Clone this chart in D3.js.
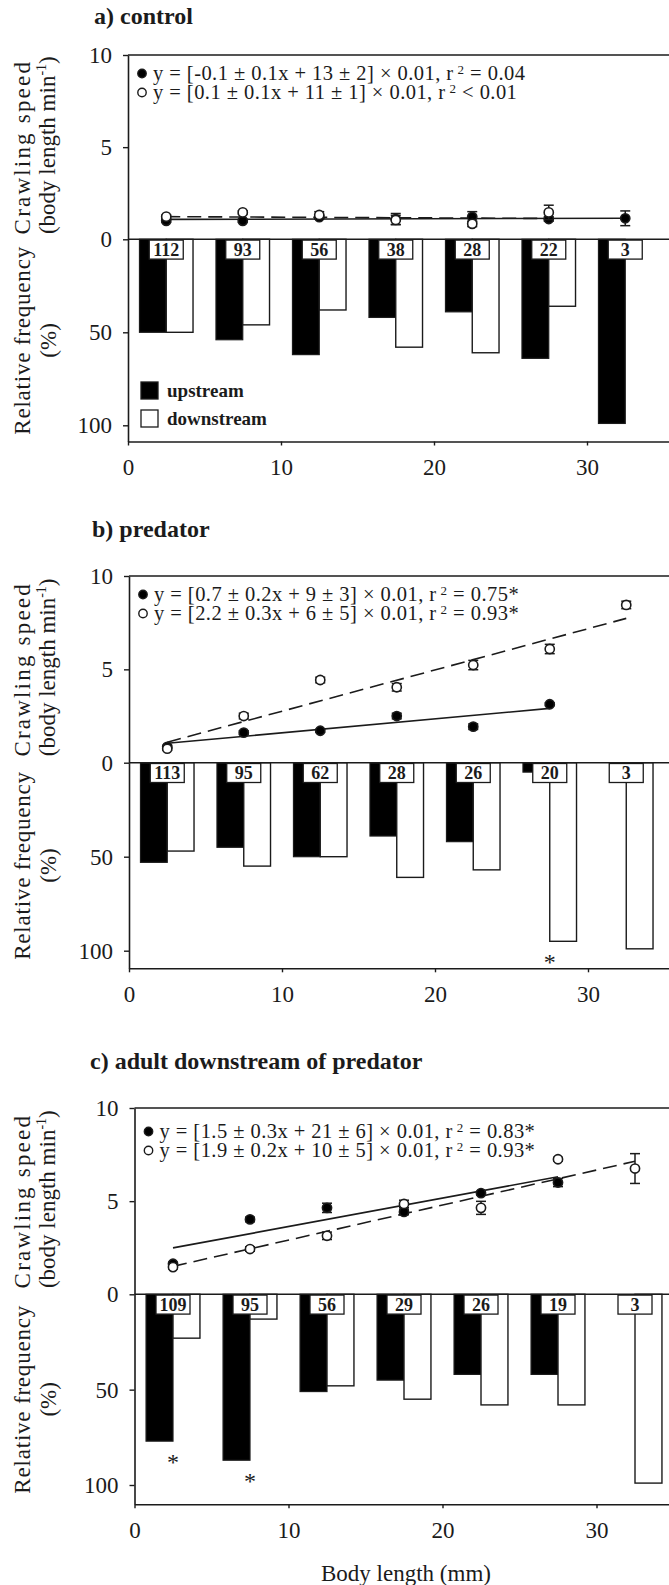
<!DOCTYPE html>
<html>
<head>
<meta charset="utf-8">
<script src="https://cdn.jsdelivr.net/npm/d3@7"></script>
<style>
  body { margin: 0; background: #fff; }
  svg { display: block; font-family: "Liberation Serif", "Times New Roman", serif; }
</style>
</head>
<body>
<svg id="chart" width="669" height="1585"></svg>
<script>
// body length classes (mm), bar-pair centres
const sizes = [2.5, 7.5, 12.5, 17.5, 22.5, 27.5, 32.5];
const xTicks = [0, 10, 20, 30];
const speedTicks = [0, 5, 10];
const freqTicks = [0, 50, 100];

// a) control
const countsA = [112, 93, 56, 38, 28, 22, 3];
const upFreqA = [50, 54, 62, 42, 39, 64, 99];
const downFreqA = [50, 46, 38, 58, 61, 36, 0];
const upSpeedA = [1.0, 1.0, 1.2, 1.1, 1.22, 1.1, 1.14];
const upErrA = [0.08, 0.08, 0.1, 0.3, 0.28, 0.12, 0.4];
const downSpeedA = [1.23, 1.46, 1.32, 1.05, 0.84, 1.46, null];
const downErrA = [0.08, 0.08, 0.18, 0.25, 0.15, 0.39, null];
const fitUpA = [[2.5, 1.08], [32.5, 1.14]];
const fitDownA = [[2.5, 1.23], [27.5, 1.13]];
const eqA = [["y = [-0.1 ± 0.1x + 13 ± 2] × 0.01, r", " = 0.04"],
             ["y = [0.1 ± 0.1x + 11 ± 1] × 0.01, r", " < 0.01"]];
const starsA = [];

// b) predator
const countsB = [113, 95, 62, 28, 26, 20, 3];
const upFreqB = [53, 45, 50, 39, 42, 5, 0];
const downFreqB = [47, 55, 50, 61, 57, 95, 99];
const upSpeedB = [0.85, 1.61, 1.71, 2.5, 1.93, 3.13, null];
const upErrB = [0.08, 0.1, 0.08, 0.15, 0.15, 0.08, null];
const downSpeedB = [0.75, 2.5, 4.43, 4.04, 5.23, 6.09, 8.45];
const downErrB = [0.08, 0.15, 0.15, 0.2, 0.25, 0.25, 0.2];
const fitUpB = [[2.5, 1.04], [27.5, 2.91]];
const fitDownB = [[2.5, 1.1], [32.5, 7.73]];
const eqB = [["y = [0.7 ± 0.2x + 9 ± 3] × 0.01, r", " = 0.75*"],
             ["y = [2.2 ± 0.3x + 6 ± 5] × 0.01, r", " = 0.93*"]];
const starsB = [5];

// c) adult downstream of predator
const countsC = [109, 95, 56, 29, 26, 19, 3];
const upFreqC = [77, 87, 51, 45, 42, 42, 0];
const downFreqC = [23, 13, 48, 55, 58, 58, 99];
const upSpeedC = [1.64, 4.02, 4.64, 4.42, 5.43, 6.0, null];
const upErrC = [0.08, 0.12, 0.25, 0.15, 0.1, 0.22, null];
const downSpeedC = [1.46, 2.43, 3.14, 4.85, 4.64, 7.25, 6.75];
const downErrC = [0.1, 0.12, 0.2, 0.2, 0.35, 0.1, 0.8];
const fitUpC = [[2.5, 2.49], [27.5, 6.31]];
const fitDownC = [[2.5, 1.5], [32.5, 7.14]];
const eqC = [["y = [1.5 ± 0.3x + 21 ± 6] × 0.01, r", " = 0.83*"],
             ["y = [1.9 ± 0.2x + 10 ± 5] × 0.01, r", " = 0.93*"]];
const starsC = [0, 1];

const panels = [
  { title: "a) control", titleX: 94, titleY: 24, x0: 128, mm: 15.3, top: 55, zero: 239.3, f100: 425.3, bottom: 441.5, eqY: 25,
    counts: countsA, upF: upFreqA, downF: downFreqA, upS: upSpeedA, upE: upErrA, downS: downSpeedA, downE: downErrA,
    fitUp: fitUpA, fitDown: fitDownA, eq: eqA, stars: starsA, legend: true },
  { title: "b) predator", titleX: 92, titleY: 537, x0: 129, mm: 15.3, top: 576, zero: 762.7, f100: 950.7, bottom: 968.3, eqY: 25,
    counts: countsB, upF: upFreqB, downF: downFreqB, upS: upSpeedB, upE: upErrB, downS: downSpeedB, downE: downErrB,
    fitUp: fitUpB, fitDown: fitDownB, eq: eqB, stars: starsB },
  { title: "c) adult downstream of predator", titleX: 90, titleY: 1069, x0: 134.5, mm: 15.4, top: 1108, zero: 1294.3, f100: 1485, bottom: 1504.3, eqY: 30,
    counts: countsC, upF: upFreqC, downF: downFreqC, upS: upSpeedC, upE: upErrC, downS: downSpeedC, downE: downErrC,
    fitUp: fitUpC, fitDown: fitDownC, eq: eqC, stars: starsC, xLabel: "Body length (mm)" }
];

const svg = d3.select("#chart");
const ink = "#1b1b1b";
const barHalf = 1.75; // mm

function styleAxis(sel) {
  sel.attr("font-family", null).attr("font-size", 23);
  sel.select(".domain").attr("stroke", ink).attr("stroke-width", 1.6);
  sel.selectAll(".tick line").attr("stroke", ink).attr("stroke-width", 1.4);
  sel.selectAll(".tick text").attr("fill", ink);
}

panels.forEach(function (p) {
  const x = d3.scaleLinear().domain([0, 36]).range([p.x0, p.x0 + 36 * p.mm]);
  const speed = d3.scaleLinear().domain([0, 10]).range([p.zero, p.top]);
  const freq = d3.scaleLinear().domain([0, 100]).range([p.zero, p.f100]);
  const freqAxis = d3.scaleLinear().domain([0, freq.invert(p.bottom)]).range([p.zero, p.bottom]);
  const g = svg.append("g");

  g.append("text")
    .attr("x", p.titleX).attr("y", p.titleY)
    .attr("font-weight", "bold").attr("font-size", 24).attr("fill", ink)
    .text(p.title);

  // bars
  sizes.forEach(function (s, i) {
    if (p.upF[i] > 0) {
      g.append("rect")
        .attr("x", x(s - barHalf)).attr("y", p.zero)
        .attr("width", x(s) - x(s - barHalf)).attr("height", freq(p.upF[i]) - p.zero)
        .attr("fill", "#000").attr("stroke", ink).attr("stroke-width", 1.2);
    }
    if (p.downF[i] > 0) {
      g.append("rect")
        .attr("x", x(s)).attr("y", p.zero)
        .attr("width", x(s + barHalf) - x(s)).attr("height", freq(p.downF[i]) - p.zero)
        .attr("fill", "#fff").attr("stroke", ink).attr("stroke-width", 1.4);
    }
  });

  // sample size boxes
  sizes.forEach(function (s, i) {
    g.append("rect")
      .attr("x", x(s) - 17).attr("y", p.zero + 0.8)
      .attr("width", 34).attr("height", 19)
      .attr("fill", "#fff").attr("stroke", ink).attr("stroke-width", 1.3);
    g.append("text")
      .attr("x", x(s)).attr("y", p.zero + 16.5)
      .attr("text-anchor", "middle").attr("font-weight", "bold").attr("font-size", 18).attr("fill", ink)
      .text(p.counts[i]);
  });

  // significance stars
  p.stars.forEach(function (i) {
    const depth = Math.max(p.upF[i], p.downF[i]);
    g.append("text")
      .attr("x", x(sizes[i])).attr("y", freq(depth) + 29)
      .attr("text-anchor", "middle").attr("font-size", 24).attr("fill", ink)
      .text("*");
  });

  // frame lines
  [10, 0].forEach(function (v) {
    g.append("line")
      .attr("x1", x(0)).attr("x2", x(36))
      .attr("y1", speed(v)).attr("y2", speed(v))
      .attr("stroke", ink).attr("stroke-width", 1.6);
  });

  g.append("g").attr("transform", "translate(" + x(0) + ",0)")
    .call(d3.axisLeft(speed).tickValues(speedTicks).tickSize(5).tickSizeOuter(0).tickPadding(11))
    .call(styleAxis);
  g.append("g").attr("transform", "translate(" + x(0) + ",0)")
    .call(d3.axisLeft(freqAxis).tickValues(freqTicks.filter(v => v > 0)).tickSize(5).tickSizeOuter(0).tickPadding(11))
    .call(styleAxis);
  g.append("g").attr("transform", "translate(0," + p.bottom + ")")
    .call(d3.axisBottom(x).tickValues(xTicks).tickSize(4).tickSizeOuter(0).tickPadding(13))
    .call(styleAxis);

  // regression lines
  const line = d3.line().x(d => x(d[0])).y(d => speed(d[1]));
  g.append("path").datum(p.fitUp).attr("d", line)
    .attr("fill", "none").attr("stroke", ink).attr("stroke-width", 1.6);
  g.append("path").datum(p.fitDown).attr("d", line)
    .attr("fill", "none").attr("stroke", ink).attr("stroke-width", 1.6).attr("stroke-dasharray", "14,7");

  // error bars + points: upstream first, downstream on top
  [[p.upS, p.upE, "#000"], [p.downS, p.downE, "#fff"]].forEach(function (ser) {
    sizes.forEach(function (s, i) {
      const v = ser[0][i];
      if (v == null) return;
      const e = ser[1][i];
      const cx = x(s);
      g.append("line").attr("x1", cx).attr("x2", cx)
        .attr("y1", speed(v - e)).attr("y2", speed(v + e))
        .attr("stroke", ink).attr("stroke-width", 1.5);
      [v - e, v + e].forEach(function (yv) {
        g.append("line").attr("x1", cx - 5).attr("x2", cx + 5)
          .attr("y1", speed(yv)).attr("y2", speed(yv))
          .attr("stroke", ink).attr("stroke-width", 1.5);
      });
      g.append("circle").attr("cx", cx).attr("cy", speed(v)).attr("r", 4.6)
        .attr("fill", ser[2]).attr("stroke", ink).attr("stroke-width", 1.6);
    });
  });

  // equations
  p.eq.forEach(function (parts, k) {
    const by = p.top + p.eqY + k * 19;
    g.append("circle").attr("cx", p.x0 + 14).attr("cy", by - 6.5).attr("r", 4.2)
      .attr("fill", k === 0 ? "#000" : "#fff").attr("stroke", ink).attr("stroke-width", 1.4);
    const t = g.append("text").attr("x", p.x0 + 25).attr("y", by)
      .attr("font-size", 20.5).attr("letter-spacing", 0.45).attr("fill", ink);
    t.append("tspan").text(parts[0]);
    t.append("tspan").attr("dx", 4).attr("dy", -6).attr("font-size", 13).text("2");
    t.append("tspan").attr("dy", 6).text(parts[1]);
  });

  // legend
  if (p.legend) {
    [["upstream", "#000", 382], ["downstream", "#fff", 410]].forEach(function (l) {
      g.append("rect").attr("x", p.x0 + 13).attr("y", l[2]).attr("width", 17).attr("height", 17)
        .attr("fill", l[1]).attr("stroke", ink).attr("stroke-width", 1.3);
      g.append("text").attr("x", p.x0 + 39).attr("y", l[2] + 15)
        .attr("font-weight", "bold").attr("font-size", 19).attr("fill", ink).text(l[0]);
    });
  }

  // y axis titles
  const sMid = (p.top + p.zero) / 2;
  const fMid = (p.zero + p.bottom) / 2;
  g.append("text").attr("transform", "translate(30," + sMid + ") rotate(-90)")
    .attr("text-anchor", "middle").attr("font-size", 23).attr("letter-spacing", 2.2)
    .attr("fill", ink).text("Crawling speed");
  const t2 = g.append("text").attr("transform", "translate(55," + (sMid - 2) + ") rotate(-90)")
    .attr("text-anchor", "middle").attr("font-size", 23).attr("fill", ink);
  t2.append("tspan").text("(body length min");
  t2.append("tspan").attr("dy", -9).attr("font-size", 14).text("-1");
  t2.append("tspan").attr("dy", 9).text(")");
  g.append("text").attr("transform", "translate(30," + fMid + ") rotate(-90)")
    .attr("text-anchor", "middle").attr("font-size", 23).attr("letter-spacing", 0.8)
    .attr("fill", ink).text("Relative frequency");
  g.append("text").attr("transform", "translate(56," + fMid + ") rotate(-90)")
    .attr("text-anchor", "middle").attr("font-size", 23).attr("fill", ink).text("(%)");

  if (p.xLabel) {
    g.append("text").attr("x", 406).attr("y", 1581)
      .attr("text-anchor", "middle").attr("font-size", 23).attr("fill", ink).text(p.xLabel);
  }
});
</script>
</body>
</html>
